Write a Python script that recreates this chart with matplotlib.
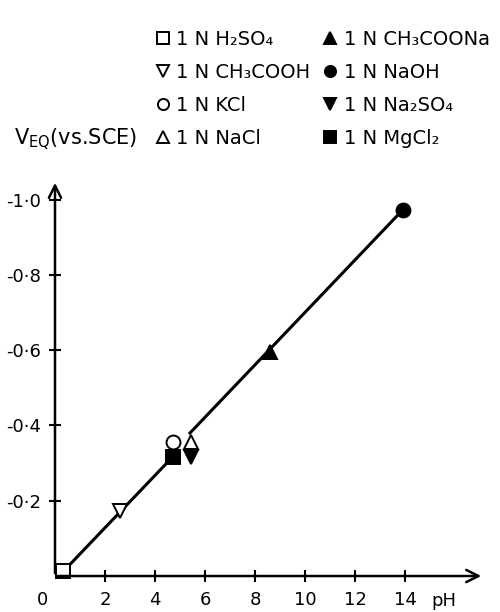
# Equilibrium potential vs pH for various 1N solutions
import matplotlib.pyplot as plt
from matplotlib.lines import Line2D

# data
solutions = ['1 N H₂SO₄', '1 N CH₃COOH', '1 N KCl', '1 N NaCl',
             '1 N CH₃COONa', '1 N NaOH', '1 N Na₂SO₄', '1 N MgCl₂']
ph = [0.3, 2.6, 4.7, 5.45, 8.6, 13.9, 5.45, 4.7]
veq = [-0.013, -0.173, -0.356, -0.356, -0.595, -0.972, -0.316, -0.316]
markers = ['s', 'v', 'o', '^', '^', 'o', 'v', 's']
filled = [False, False, False, False, True, True, True, True]

# the drawn line (two pieces, broken around pH 5)
line_low_ph = [0.3, 4.7]
line_low_v = [-0.01, -0.316]
line_high_ph = [5.4, 13.9]
line_high_v = [-0.38, -0.972]

x_ticks = [2, 4, 6, 8, 10, 12, 14]
y_ticks = [-0.2, -0.4, -0.6, -0.8, -1.0]
y_tick_labels = ['-0·2', '-0·4', '-0·6', '-0·8', '-1·0']

fig = plt.figure(figsize=(5, 6.12), dpi=100)
ax = fig.add_axes([0.11, 0.0588, 0.858, 0.647])

ax.plot(line_low_ph, line_low_v, color='black', lw=2.2, zorder=2)
ax.plot(line_high_ph, line_high_v, color='black', lw=2.2, zorder=2)

handles = []
for x, y, m, f, lab in zip(ph, veq, markers, filled, solutions):
    fc = 'black' if f else 'white'
    ax.plot(x, y, marker=m, ms=10, mfc=fc, mec='black', mew=1.4,
            ls='none', zorder=3, clip_on=False)
    handles.append(Line2D([], [], marker=m, ms=8, mfc=fc, mec='black',
                          mew=1.4, ls='none', label=lab))

ax.set_xlim(0, 17.16)
ax.set_ylim(0, -1.052)

for s in ax.spines.values():
    s.set_visible(False)
ax.annotate('', xy=(1, 0), xytext=(0, 0), xycoords='axes fraction',
            arrowprops=dict(arrowstyle='->', lw=1.8, mutation_scale=22))
ax.annotate('', xy=(0, 1), xytext=(0, 0), xycoords='axes fraction',
            arrowprops=dict(arrowstyle='->', lw=1.8, mutation_scale=22))

ax.set_xticks(x_ticks)
ax.set_yticks(y_ticks)
ax.set_yticklabels(y_tick_labels)
ax.tick_params(direction='inout', length=8, width=1.5, labelsize=13)
ax.tick_params(axis='x', pad=7)
ax.tick_params(axis='y', pad=6)
ax.text(-0.5, 0.064, '0', fontsize=13, ha='center', va='center')
ax.text(15.55, 0.066, 'pH', fontsize=13, ha='center', va='center')

fig.text(0.028, 1 - 139 / 612, r'V$_{\mathregular{EQ}}$(vs.SCE)', fontsize=15,
         va='center', ha='left')

fig.legend(handles=handles, ncol=2, loc='upper left', frameon=False,
           bbox_to_anchor=(0.31, 1 - 30 / 612), fontsize=14,
           handlelength=0.8, handletextpad=0.3, labelspacing=0.72,
           columnspacing=0.6, borderaxespad=0, borderpad=0)

plt.savefig('out.png', dpi=100)
